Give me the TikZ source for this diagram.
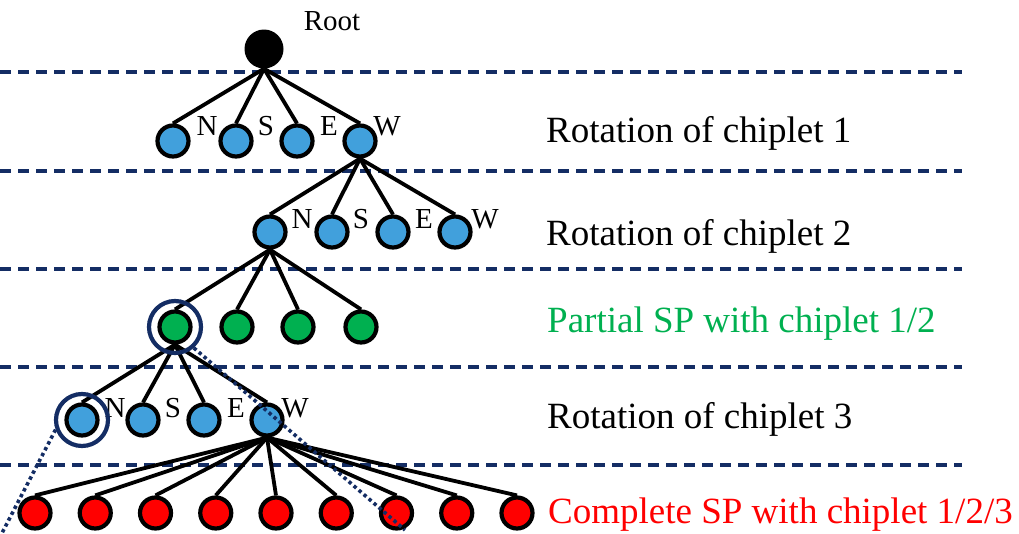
\documentclass[tikz,border=0pt]{standalone}
\usepackage{fontspec}
\setmainfont{Liberation Serif}
\usetikzlibrary{backgrounds}
\definecolor{nodeblue}{RGB}{65,160,220}
\definecolor{nodegreen}{RGB}{0,176,80}
\definecolor{nodered}{RGB}{255,0,0}
\definecolor{navy}{RGB}{20,45,100}
\begin{document}
\begin{tikzpicture}[x=1pt,y=-1pt,
  tnode/.style={circle,draw=black,line width=4.2pt,minimum size=31pt,inner sep=0pt},
  bnode/.style={tnode,fill=nodeblue},
  gnode/.style={tnode,fill=nodegreen},
  rnode/.style={tnode,fill=nodered},
  rootnode/.style={circle,fill=black,minimum size=39pt,inner sep=0pt},
  edge/.style={line width=3.8pt,black},
  level/.style={navy,line width=3.2pt,dash pattern=on 11pt off 7pt},
  focus/.style={circle,draw=navy,line width=4.2pt,minimum size=52pt,inner sep=0pt},
  zoomline/.style={navy,line width=3.6pt,dash pattern=on 3.4pt off 3.2pt},
  dir/.style={font=\fontsize{29}{30}\selectfont,anchor=base,inner sep=0pt},
  rowlabel/.style={font=\fontsize{37}{40}\selectfont,anchor=base west,inner sep=0pt}]
\useasboundingbox (0,0) rectangle (1019,533);

% tree nodes
\node[rootnode] (root) at (264,49) {};
\foreach \x [count=\i] in {173,236,297,360}
  \node[bnode] (a\i) at (\x,141) {};
\foreach \x [count=\i] in {270,332,393,455}
  \node[bnode] (b\i) at (\x,232) {};
\foreach \x [count=\i] in {175,237,298,361}
  \node[gnode] (g\i) at (\x,327) {};
\foreach \x [count=\i] in {82,143,204,267}
  \node[bnode] (c\i) at (\x,420) {};
\foreach \i in {1,...,9}
  \node[rnode] (r\i) at ({35+60.25*(\i-1)},513) {};

\begin{scope}[on background layer]
  % level separators
  \foreach \y/\n in {72/1,171/2,269/3,367/4,465/5}
    \draw[level] (0,\y) coordinate (l\n a) -- (962,\y) coordinate (l\n b);
  % edges run from the parent's bottom to the child's top
  \foreach \i in {1,...,4} {
    \draw[edge] (root.south) -- (a\i.north);
    \draw[edge] (a4.south) -- (b\i.north);
    \draw[edge] (b1.south) -- (g\i.north);
    \draw[edge] (g1.south) -- (c\i.north);
  }
  \foreach \i in {1,...,9}
    \draw[edge] (c4.south) -- (r\i.north);
\end{scope}

% labels
\node[dir] (rootlbl) at (332,30) {Root};
\foreach \t/\x in {N/207,S/266,E/329,W/387}
  \node[dir] (d1\t) at (\x,135) {\t};
\foreach \t/\x in {N/302,S/361,E/424,W/485}
  \node[dir] (d2\t) at (\x,228) {\t};
\foreach \t/\x in {N/115,S/173,E/236,W/295}
  \node[dir] (d3\t) at (\x,417) {\t};

% highlighted partial solutions and their zoom lines
\node[focus] (fg) at (g1) {};
\node[focus] (fc) at (c1) {};
\coordinate (zg) at (405,530);
\coordinate (zc) at (2,533);
\draw[zoomline] (fg.-48) -- (zg);
\draw[zoomline] (fc.200) -- (zc);

% row descriptions
\node[rowlabel] (t1) at (546,142) {Rotation of chiplet 1};
\node[rowlabel] (t2) at (546,245) {Rotation of chiplet 2};
\node[rowlabel,text=nodegreen] (t3) at (547,332) {Partial SP with chiplet 1/2};
\node[rowlabel] (t4) at (547,428) {Rotation of chiplet 3};
\node[rowlabel,text=nodered] (t5) at (548,523) {Complete SP with chiplet 1/2/3};
\end{tikzpicture}
\end{document}
